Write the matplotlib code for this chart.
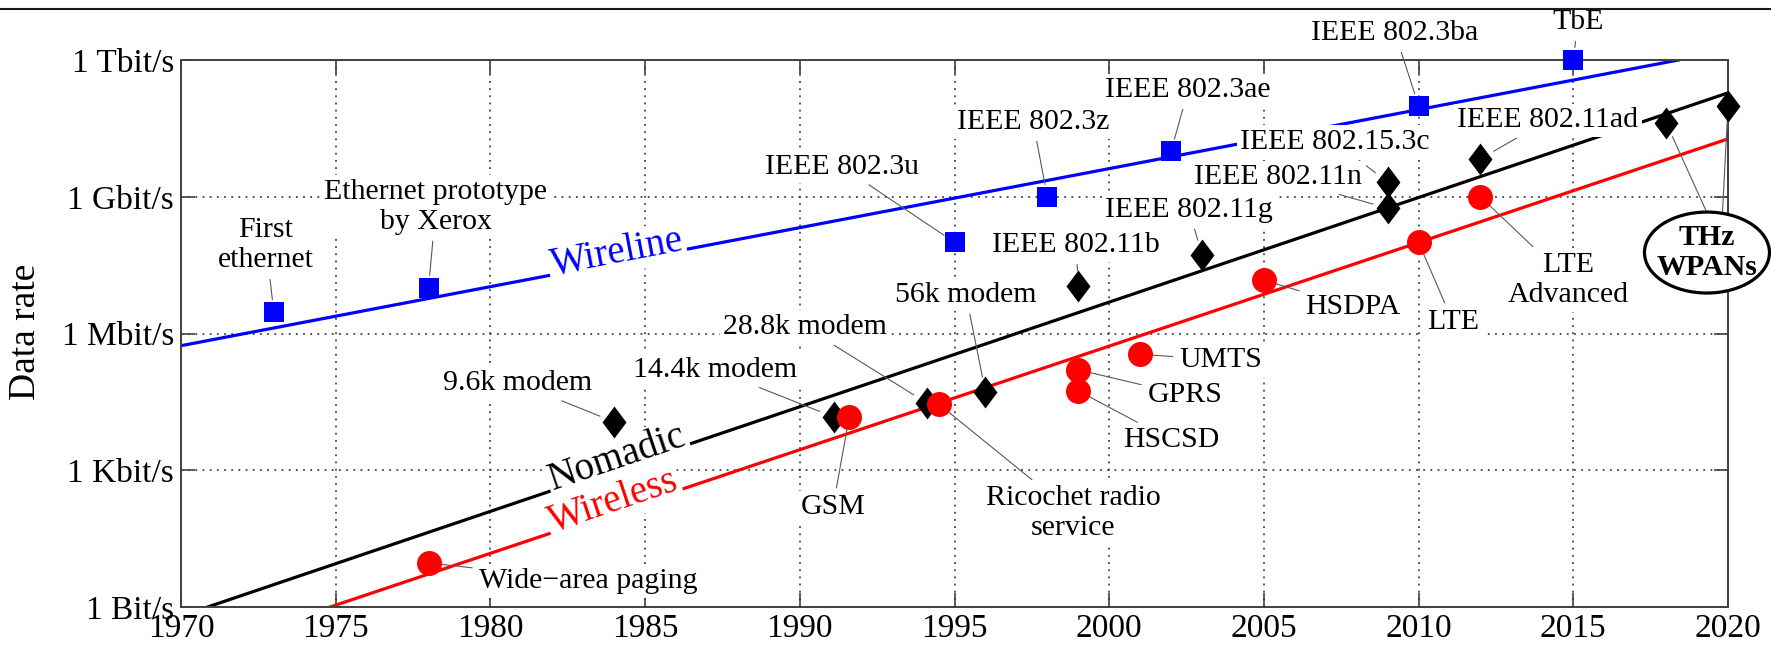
import numpy as np
import matplotlib
matplotlib.use("Agg")
import matplotlib.pyplot as plt
from matplotlib.patches import Ellipse
from matplotlib.lines import Line2D
from matplotlib.ticker import NullLocator

plt.rcParams["font.family"] = ["Liberation Serif", "DejaVu Serif"]

# --- data (year, bit/s) ---
wire_years = [1973, 1978, 1995, 1998, 2002, 2010, 2015]
wire_rates = [2.94e6, 1e7, 1e8, 1e9, 1e10, 1e11, 1e12]
wire_names = ["First\nethernet", "Ethernet prototype\nby Xerox", "IEEE 802.3u",
              "IEEE 802.3z", "IEEE 802.3ae", "IEEE 802.3ba", "TbE"]

nomadic_years = [1984, 1991.1, 1994.1, 1996, 1999, 2003, 2009, 2009, 2012, 2018, 2020]
nomadic_rates = [1.15e4, 1.47e4, 3.0e4, 5.2e4, 1.1e7, 5.3e7, 2.1e9, 5.6e8, 6.8e9, 4.2e10, 1.0e11]
nomadic_names = ["9.6k modem", "14.4k modem", "28.8k modem", "56k modem", "IEEE 802.11b",
                 "IEEE 802.11g", "IEEE 802.15.3c", "IEEE 802.11n", "IEEE 802.11ad"]

wireless_years = [1978, 1991.6, 1994.5, 1999, 1999, 2001, 2005, 2010, 2012]
wireless_rates = [9.3, 1.5e4, 2.8e4, 1.6e5, 5.5e4, 3.5e5, 1.48e7, 1e8, 1e9]
wireless_names = ["Wide\u2212area paging", "GSM", "Ricochet radio\nservice", "GPRS", "HSCSD",
                  "UMTS", "HSDPA", "LTE", "LTE\nAdvanced"]

# trend lines
wire_trend_years = [1970, 2018.4]
wire_trend_rates = [5.4e5, 1e12]
nomadic_trend_years = [1970.86, 2020]
nomadic_trend_rates = [1, 1.9e11]
wireless_trend_years = [1974.82, 2020]
wireless_trend_rates = [1, 1.86e10]

# label positions (year, log10 rate)
wire_label_pos = [(1972.75, 7.94), (1978.24, 8.78), (1991.36, 9.66), (1997.54, 10.64),
                  (2002.55, 11.34), (2009.24, 12.59), (2015.15, 12.83)]
nomadic_label_pos = [(1980.89, 4.91), (1987.26, 5.20), (1990.17, 6.14), (1995.37, 6.85),
                     (1998.93, 7.94), (2002.58, 8.71), (2007.3, 10.2), (2005.46, 9.43),
                     (2014.18, 10.68)]
wireless_label_pos = [(1983.15, 0.57), (1991.07, 2.19), (1998.83, 2.06), (2002.45, 4.65),
                      (2002.0, 3.66), (2003.6, 5.42), (2007.88, 6.58), (2011.11, 6.25),
                      (2014.83, 7.17)]

BLUE = "#0000ff"
RED = "#ff0000"

fig = plt.figure(figsize=(17.71, 6.47), dpi=100)
ax = fig.add_axes([181 / 1771, 40 / 647, 1547 / 1771, 547 / 647])
ax.set_yscale("log")
ax.set_xlim(1970, 2020)
ax.set_ylim(1, 1e12)

# trend lines
ax.plot(wire_trend_years, wire_trend_rates, color=BLUE, lw=2.3, zorder=2)
ax.plot(nomadic_trend_years, nomadic_trend_rates, color="black", lw=2.3, zorder=2)
ax.plot(wireless_trend_years, wireless_trend_rates, color=RED, lw=2.3, zorder=2)

# markers
diamond = [(0, 1), (0.75, 0), (0, -1), (-0.75, 0), (0, 1)]
ax.plot(wire_years, wire_rates, "s", color=BLUE, ms=15, mew=0, clip_on=False, zorder=6)
ax.plot(nomadic_years, nomadic_rates, marker=diamond, ls="none", color="black", ms=23, mew=0,
        clip_on=False, zorder=6)
ax.plot(wireless_years, wireless_rates, "o", color=RED, ms=18, mew=0, clip_on=False, zorder=6)


def label(text, xy, pos, shrink=9):
    ax.annotate(text, xy=xy, xytext=(pos[0], 10 ** pos[1]), ha="center", va="center",
                fontsize=21.5, zorder=4, annotation_clip=False,
                bbox=dict(boxstyle="square,pad=0.12", fc="white", ec="none"),
                arrowprops=dict(arrowstyle="-", color="0.35", lw=0.8, shrinkA=2, shrinkB=shrink))


for name, x, y, p in zip(wire_names, wire_years, wire_rates, wire_label_pos):
    label(name, (x, y), p)
for name, x, y, p in zip(nomadic_names, nomadic_years, nomadic_rates, nomadic_label_pos):
    label(name, (x, y), p, shrink=11)
for name, x, y, p in zip(wireless_names, wireless_years, wireless_rates, wireless_label_pos):
    label(name, (x, y), p)

# THz WPANs ellipse label
ell = Ellipse((0.9864, 0.648), 0.0808, 0.148, transform=ax.transAxes, fc="white", ec="black",
              lw=2.3, clip_on=False, zorder=7)
ax.add_patch(ell)
ax.text(0.9864, 0.648, "THz\nWPANs", transform=ax.transAxes, ha="center", va="center",
        fontsize=21.5, fontweight="bold", linespacing=1.1, zorder=8)
thz_tops = [(2019.42, 8.5), (2019.81, 8.5)]
for x, y, p in zip(nomadic_years[-2:], nomadic_rates[-2:], thz_tops):
    ax.annotate("", xy=(x, y), xytext=(p[0], 10 ** p[1]), annotation_clip=False, zorder=5,
                arrowprops=dict(arrowstyle="-", color="0.35", lw=0.8, shrinkA=0, shrinkB=11))


# rotated trend labels
def trend_label(text, xs, ys, year, color, z):
    p = ax.transData.transform(np.column_stack([xs, ys]))
    ang = np.degrees(np.arctan2(p[1, 1] - p[0, 1], p[1, 0] - p[0, 0]))
    rate = 10 ** np.interp(year, xs, np.log10(ys))
    ax.text(year, rate, text, rotation=ang, rotation_mode="anchor", ha="center", va="baseline",
            color=color, fontsize=28, zorder=z,
            bbox=dict(boxstyle="square,pad=0.06", fc="white", ec="none"))


trend_label("Wireline", wire_trend_years, wire_trend_rates, 1984.14, BLUE, 3)
trend_label("Wireless", wireless_trend_years, wireless_trend_rates, 1984.08, RED, 3)
trend_label("Nomadic", nomadic_trend_years, nomadic_trend_rates, 1984.2, "black", 3.5)

# axes styling
ax.set_xticks(range(1970, 2021, 5))
ax.set_yticks([1, 1e3, 1e6, 1e9, 1e12])
ax.set_yticklabels(["1 Bit/s", "1 Kbit/s", "1 Mbit/s", "1 Gbit/s", "1 Tbit/s"])
ax.yaxis.set_minor_locator(NullLocator())
ax.tick_params(which="both", direction="in", top=True, right=True, length=10, width=1.2,
               color="0.25", labelsize=24, pad=5)
ax.grid(True, ls=(0, (1.2, 3.5)), color="0.15", lw=1.1)
for s in ax.spines.values():
    s.set_linewidth(1.4)
    s.set_color("0.25")

ax.set_ylabel("Data rate", fontsize=27)
ax.yaxis.set_label_coords(-0.0892, 0.503)

fig.add_artist(Line2D([0, 1], [1 - 8.5 / 647] * 2, transform=fig.transFigure, color="0.1", lw=1.5))

fig.savefig("out.png", dpi=100)
plt.close()
